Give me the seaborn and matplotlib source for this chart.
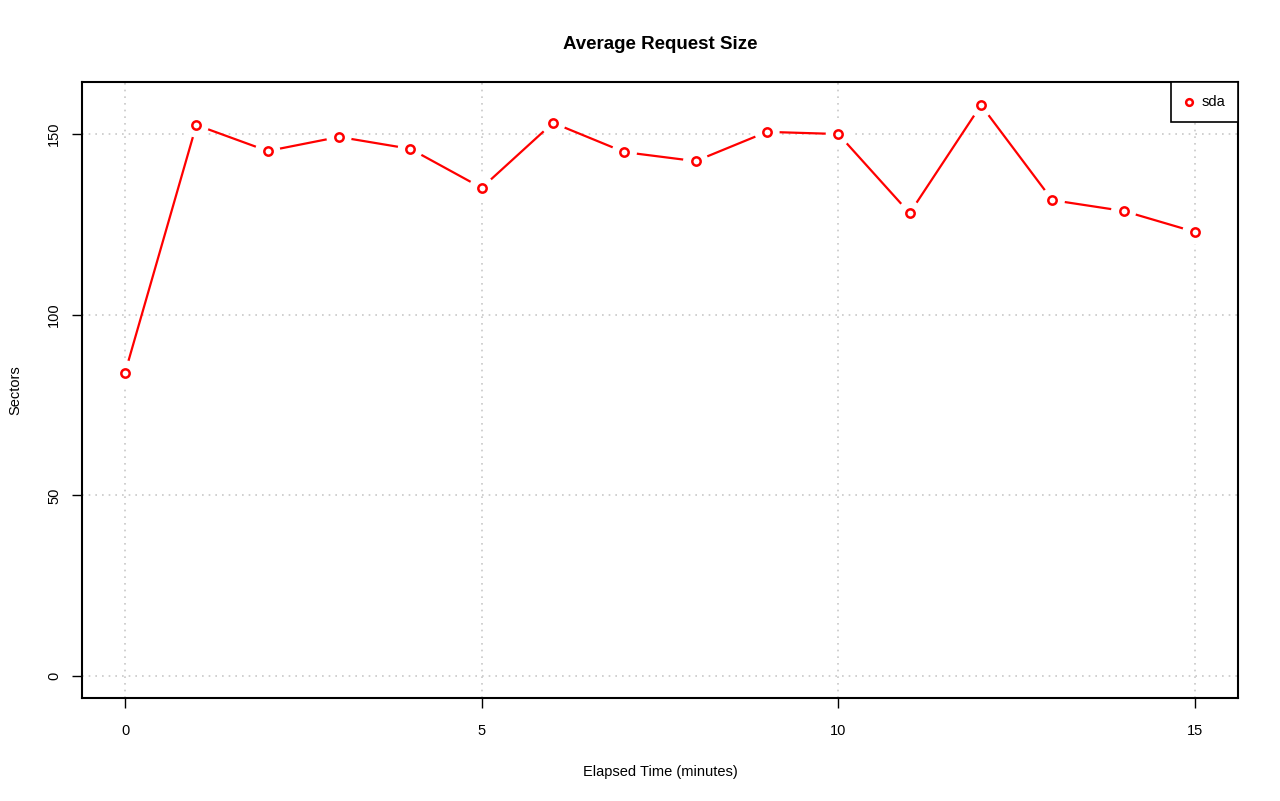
import matplotlib
matplotlib.use("Agg")
import matplotlib.pyplot as plt
import seaborn as sns
import pandas as pd

minutes = [0, 1, 2, 3, 4, 5, 6, 7, 8, 9, 10, 11, 12, 13, 14, 15]
sda = [83.9, 152.5, 145.3, 149.2, 145.9, 135.1, 153.1, 145.0, 142.5, 150.6, 150.0, 128.1, 158.0, 131.7, 128.7, 122.9]
x_ticks = [0, 5, 10, 15]
y_ticks = [0, 50, 100, 150]

df = pd.DataFrame({"minutes": minutes, "sda": sda})

sns.set_style("white")
plt.rcParams["font.family"] = ["Liberation Sans", "DejaVu Sans"]
plt.rcParams["text.color"] = "black"
plt.rcParams["axes.labelcolor"] = "black"
plt.rcParams["xtick.color"] = "black"
plt.rcParams["ytick.color"] = "black"

fig = plt.figure(figsize=(12.8, 8.01), dpi=100)
ax = fig.add_axes([82/1280, 1-698/801, (1238-82)/1280, (698-82)/801])

sns.lineplot(data=df, x="minutes", y="sda", ax=ax, color="red", lw=1.6, zorder=3)
sns.scatterplot(data=df, x="minutes", y="sda", ax=ax, s=330, color="white", edgecolor="none", zorder=4)
sns.scatterplot(data=df, x="minutes", y="sda", ax=ax, s=36, facecolor="white", edgecolor="red", linewidth=1.8, zorder=5, label="sda")

ax.set_xlim(-0.603, 15.603)
ax.set_ylim(-6.09, 164.4)
ax.set_xticks(x_ticks)
ax.set_yticks(y_ticks)
ax.set_yticklabels([str(v) for v in y_ticks], rotation=90, va="center")
ax.grid(True, color="#c8c8c8", linestyle=(0, (1, 3)), lw=1.2)
for s in ax.spines.values():
    s.set_visible(True)
    s.set_color("black")
    s.set_linewidth(1.5)
ax.tick_params(axis="x", which="both", direction="out", length=7, width=1, colors="black", labelsize=10.5, pad=12, bottom=True)
ax.tick_params(axis="y", which="both", direction="out", length=7, width=1, colors="black", labelsize=10.5, pad=8, left=True)
ax.set_xlabel("Elapsed Time (minutes)", fontsize=10.5, labelpad=19)
ax.set_ylabel("Sectors", fontsize=10.5, labelpad=18)
ax.set_title("Average Request Size", fontsize=13.5, fontweight="bold", pad=24, color="black")

leg = ax.legend(loc="upper right", frameon=True, fancybox=False, borderaxespad=0, fontsize=10.5,
                handletextpad=0.4, borderpad=0.9, markerscale=0.8, handlelength=0.8)
leg.get_frame().set_edgecolor("black")
leg.get_frame().set_linewidth(1.2)
leg.get_frame().set_alpha(1)

fig.savefig("out.png", dpi=100)
